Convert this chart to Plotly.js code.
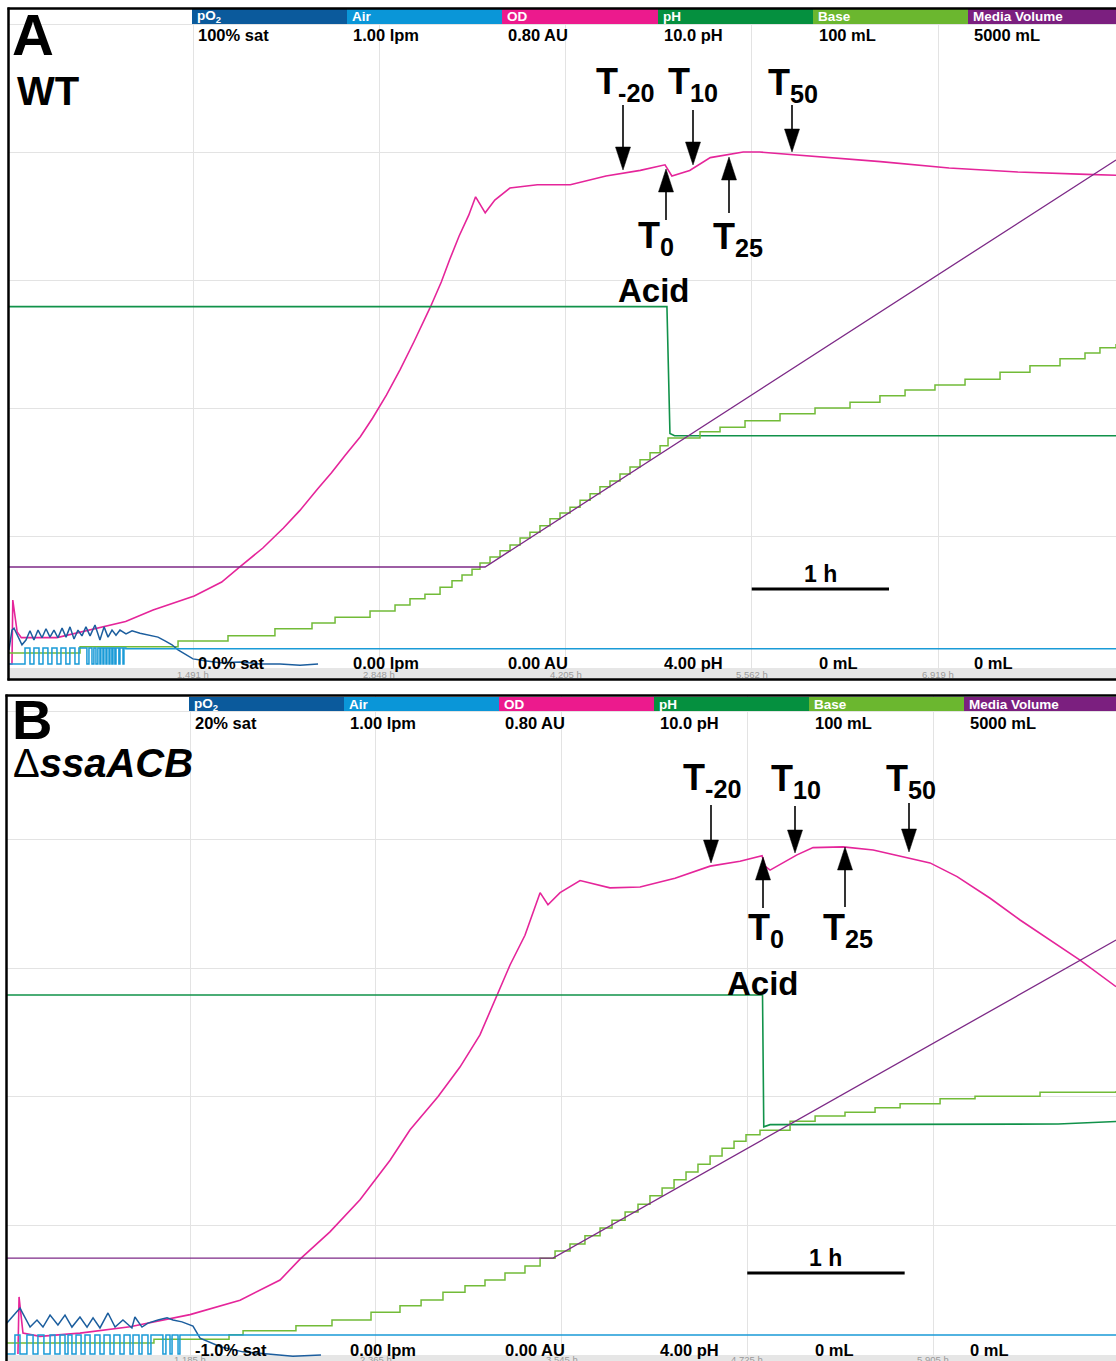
<!DOCTYPE html>
<html><head><meta charset="utf-8">
<script src="https://cdn.plot.ly/plotly-3.0.1.min.js"></script>
<style>html,body{margin:0;padding:0;background:#fff}#chart{width:1116px;height:1361px}</style>
</head><body><div id="chart"></div>
<script>
// ---------------- DATA ----------------
// Channel names and scale labels
const channels = ['pO<sub>2</sub>', 'Air', 'OD', 'pH', 'Base', 'Media Volume'];
const topLabelsA = ['100% sat', '1.00 lpm', '0.80 AU', '10.0 pH', '100 mL', '5000 mL'];
const botLabelsA = ['0.0% sat', '0.00 lpm', '0.00 AU', '4.00 pH', '0 mL', '0 mL'];
const topLabelsB = ['20% sat', '1.00 lpm', '0.80 AU', '10.0 pH', '100 mL', '5000 mL'];
const botLabelsB = ['-1.0% sat', '0.00 lpm', '0.00 AU', '4.00 pH', '0 mL', '0 mL'];
// numeric scale of each channel [min, max]
const scaleA = {po2: [0, 100], air: [0, 1], od: [0, 0.8], ph: [4, 10], base: [0, 100], mv: [0, 5000]};
const scaleB = {po2: [-1, 20], air: [0, 1], od: [0, 0.8], ph: [4, 10], base: [0, 100], mv: [0, 5000]};
// time ticks (h)
const ticksA = [1.491, 2.848, 4.205, 5.562, 6.919];
const ticksB = [1.185, 2.365, 3.545, 4.725, 5.905];

// ---- Panel A (WT) ----
const odA_t = [0.150,0.172,0.178,0.21,0.24,0.50,1.00,1.20,1.50,1.70,1.83,2.00,2.15,2.27,2.40,2.50,2.60,2.71,2.80,2.90,3.00,3.10,3.22,3.30,3.36,3.43,3.50,3.55,3.62,3.69,3.80,4.00,4.24,4.50,4.75,4.93,4.98,5.11,5.26,5.50,5.62,6.00,6.50,7.00,7.50,8.00,8.22];
const odA_v = [0.000,0.000,0.080,0.040,0.033,0.033,0.053,0.0675,0.085,0.1025,0.121,0.145,0.170,0.192,0.219,0.239,0.261,0.284,0.3075,0.336,0.368,0.4025,0.446,0.4775,0.505,0.535,0.561,0.584,0.564,0.580,0.595,0.599,0.599,0.610,0.617,0.624,0.610,0.617,0.633,0.640,0.640,0.635,0.628,0.620,0.615,0.612,0.611];
const phA_t = [0.150, 4.944, 4.966, 5.00, 8.22];
const phA_v = [7.35, 7.35, 6.16, 6.14, 6.14];
const baseA_t = [0.150,0.668,1.382,1.746,2.088,2.358,2.526,2.781,2.963,3.072,3.181,3.291,3.378,3.451,3.524,3.582,3.655,3.728,3.801,3.874,3.946,4.019,4.092,4.165,4.238,4.311,4.384,4.456,4.529,4.602,4.675,4.748,4.821,4.894,4.952,5.185,5.331,5.513,5.768,6.023,6.278,6.496,6.679,6.897,7.116,7.371,7.589,7.808,7.990,8.099,8.216];
const baseA_v = [1.7,2.7,3.6,4.4,5.5,6.4,7.3,8.3,9.2,10.2,10.9,12.0,13.0,13.9,14.8,15.8,16.7,17.7,18.6,19.7,20.6,21.6,22.7,23.6,24.5,25.6,26.6,27.7,28.6,29.7,30.8,31.9,33.0,34.1,35.3,36.3,37.0,38.0,39.1,40.0,40.9,41.9,42.8,43.6,44.5,45.6,46.6,47.7,48.6,49.4,50.0];
const mvA_t = [0.150, 3.619, 8.216];
const mvA_v = [758, 758, 3938];
const po2A_t = [0.150,0.172,0.187,0.216,0.245,0.274,0.303,0.332,0.362,0.391,0.420,0.449,0.478,0.507,0.537,0.566,0.595,0.624,0.653,0.682,0.711,0.741,0.777,0.813,0.843,0.872,0.901,0.930,0.959,1.003,1.047,1.105,1.178,1.236,1.287,1.338,1.382,1.433,1.491,1.578,1.688,1.833,1.979,2.125,2.271,2.402];
const po2A_v = [2.2,5.3,5.6,4.2,3.0,3.75,5.2,3.75,5.3,4.1,5.5,4.2,5.3,4.1,5.6,4.2,5.8,3.9,5.3,4.4,5.8,4.4,6.1,3.75,5.8,4.2,5.3,4.5,5.3,4.7,5.2,4.8,4.4,4.2,3.6,3.0,2.2,1.6,0.8,0.5,0.2,0.3,0.0,0.0,-0.2,0.0];
const airA_t = [0.150,0.267,0.303,0.332,0.369,0.398,0.434,0.463,0.500,0.529,0.565,0.594,0.631,0.660,0.718,0.733,0.755,0.769,0.784,0.798,0.813,0.820,0.835,0.842,0.857,0.864,0.879,0.886,0.900,0.908,0.922,0.930,0.951,0.959,0.981,0.988,1.002,8.216];
const airA_v = [0,0.025,0,0.025,0,0.025,0,0.025,0,0.025,0,0.025,0,0.025,0,0.025,0,0.025,0,0.025,0,0.025,0,0.025,0,0.025,0,0.025,0,0.025,0,0.025,0,0.025,0,0.025,0.024,0.025];

// ---- Panel B (ΔssaACB) ----
const odB_t = [0.092,0.099,0.124,0.232,0.486,0.804,1.185,1.503,1.757,1.884,2.074,2.265,2.456,2.583,2.760,2.900,3.027,3.135,3.218,3.313,3.409,3.459,3.536,3.663,3.853,4.044,4.266,4.489,4.679,4.819,4.838,4.870,5.041,5.143,5.334,5.525,5.740,5.886,6.058,6.268,6.458,6.649,6.839,7.068];
const odB_v = [0.000,0.071,0.026,0.022,0.026,0.034,0.049,0.067,0.092,0.118,0.152,0.192,0.241,0.279,0.320,0.357,0.397,0.447,0.484,0.521,0.574,0.559,0.574,0.589,0.580,0.581,0.592,0.607,0.613,0.620,0.607,0.602,0.621,0.630,0.631,0.627,0.618,0.611,0.594,0.567,0.540,0.515,0.490,0.457];
const phB_t = [0.022, 4.822, 4.830, 4.87, 6.70, 7.068];
const phB_v = [7.35, 7.35, 6.12, 6.14, 6.146, 6.17];
const baseB_t = [0.022,0.956,1.433,1.522,1.858,2.087,2.335,2.519,2.653,2.792,2.932,3.059,3.186,3.313,3.409,3.504,3.599,3.694,3.790,3.866,3.949,4.031,4.107,4.184,4.260,4.336,4.412,4.489,4.565,4.641,4.717,4.806,4.997,5.156,5.346,5.537,5.696,5.950,6.172,6.585,7.068];
const baseB_v = [1.7,2.3,3.0,3.6,4.4,5.3,6.5,7.5,8.4,9.6,10.6,11.5,12.6,13.7,14.9,16.0,17.1,18.4,19.6,20.8,22.1,23.3,24.6,25.8,27.1,28.3,29.5,30.8,32.0,33.1,34.1,34.8,36.2,37.0,37.6,38.3,38.9,39.7,40.1,40.7,40.9];
const mvB_t = [0.022, 3.491, 7.068];
const mvB_v = [746, 746, 3219];
const po2B_t = [0.022,0.092,0.105,0.169,0.213,0.251,0.296,0.346,0.391,0.435,0.486,0.531,0.569,0.613,0.664,0.709,0.759,0.816,0.835,0.880,0.918,0.982,1.039,1.077,1.134,1.204,1.249,1.382,1.522,1.681,1.839,2.017];
const po2B_v = [0.01,0.44,0.50,-0.12,0.11,-0.12,0.27,-0.05,0.27,-0.12,0.21,-0.12,0.18,-0.15,0.34,-0.12,0.11,-0.15,0.21,-0.12,0.01,0.11,0.18,0.11,0.05,-0.09,-0.48,-0.77,-0.93,-1.0,-1.07,-1.03];
const airB_t = [0.022,0.073,0.105,0.149,0.188,0.219,0.257,0.296,0.327,0.359,0.391,0.410,0.435,0.461,0.493,0.518,0.550,0.581,0.613,0.639,0.677,0.702,0.740,0.766,0.804,0.823,0.861,0.880,0.918,0.937,1.013,1.032,1.058,1.071,1.109,1.121,7.068];
const airB_v = [0,0.0295,0,0.0295,0,0.0295,0,0.0295,0,0.0295,0,0.0295,0,0.0295,0,0.0295,0,0.0295,0,0.0295,0,0.0295,0,0.0295,0,0.0295,0,0.0295,0,0.0295,0,0.0295,0,0.0295,0,0.0295,0.0295];

// ---------------- LAYOUT GEOMETRY (pixels) ----------------
const W = 1116, H = 1361;
const fx = p => p / W, fy = p => 1 - p / H;
const FONT = 'Liberation Sans, Arial, Helvetica, sans-serif';
const COLORS = {po2: '#1c5e9e', air: '#1a9bd7', od: '#e5259a', ph: '#11924a', base: '#72bb38', mv: '#7d2a87'};
const HEADCOL = ['#0b5a9c', '#0a96d8', '#ec1a8d', '#05903f', '#6bb72f', '#7b1f7f'];

const panels = [
  {key: 'A', L: 9, R: 1116, T: 9, B: 680, vT: 24, vB: 664, g0: 193, g1: 938, ticks: ticksA, scale: scaleA,
   hx: [192, 347, 502, 658, 813, 968], hT: 9, hB: 24, hLab: 16.5, rowTop: 35, rowBot: 663, tickY: 674, band: [668, 680],
   top: topLabelsA, bot: botLabelsA, xid: 'x', xname: 'xaxis', y0: 1,
   data: {od: [odA_t, odA_v], ph: [phA_t, phA_v], base: [baseA_t, baseA_v], mv: [mvA_t, mvA_v], po2: [po2A_t, po2A_v], air: [airA_t, airA_v]},
   frame: {left: 8.5, top: 8.5, bottom: 679.5},
   letter: {t: 'A', x: 11, y: 1, s: 58}, strain: {t: '<b>WT</b>', x: 16, y: 68, s: 40},
   bar: {y: 589, tx: 574}, bar0: 5.562,
   arrows: [[623,105,170],[693,110,165],[792,105,152],[666,220,169],[729,213,157]],
   tlabels: [['T<sub>-20</sub>',595,60],['T<sub>10</sub>',667,60],['T<sub>50</sub>',767,61],['T<sub>0</sub>',637,214],['T<sub>25</sub>',712,215]],
   acid: [654, 271]},
  {key: 'B', L: 7, R: 1116, T: 696, B: 1361, vT: 711, vB: 1354, g0: 190, g1: 933, ticks: ticksB, scale: scaleB,
   hx: [189, 344, 499, 654, 809, 964], hT: 697, hB: 711, hLab: 704, rowTop: 723, rowBot: 1350, tickY: 1359, band: [1355, 1361],
   top: topLabelsB, bot: botLabelsB, xid: 'x2', xname: 'xaxis2', y0: 7,
   data: {od: [odB_t, odB_v], ph: [phB_t, phB_v], base: [baseB_t, baseB_v], mv: [mvB_t, mvB_v], po2: [po2B_t, po2B_v], air: [airB_t, airB_v]},
   frame: {left: 6.5, top: 695.5, bottom: null},
   letter: {t: 'B', x: 11, y: 687, s: 56}, strain: {t: 'Δ<b><i>ssaACB</i></b>', x: 12, y: 740, s: 40},
   bar: {y: 1273, tx: 1258}, bar0: 4.725,
   arrows: [[711,805,863],[795,806,853],[909,803,852],[763,908,857],[845,907,847]],
   tlabels: [['T<sub>-20</sub>',682,756],['T<sub>10</sub>',770,757],['T<sub>50</sub>',885,757],['T<sub>0</sub>',747,906],['T<sub>25</sub>',822,906]],
   acid: [763, 964]}
];

const order = ['od', 'ph', 'base', 'mv', 'po2', 'air'];
const drawOrder = ['mv', 'base', 'ph', 'air', 'po2', 'od'];
const widths = {od: 1.6, ph: 1.6, base: 1.5, mv: 1.3, po2: 1.5, air: 1.5};
const shapes = {air: 'hv', base: 'hv'};

const layout = {width: W, height: H, margin: {l: 0, r: 0, t: 0, b: 0, pad: 0},
  paper_bgcolor: '#ffffff', plot_bgcolor: 'rgba(0,0,0,0)', showlegend: false, hovermode: false,
  shapes: [], annotations: []};
const traces = [];

function ann(text, x, y, size, opts) {
  return Object.assign({text: text, x: fx(x), y: fy(y), xref: 'paper', yref: 'paper', showarrow: false,
    xanchor: 'left', yanchor: 'top', borderpad: 0, font: {family: FONT, size: size, color: '#000'}}, opts || {});
}

panels.forEach(p => {
  const tpp = (p.ticks[4] - p.ticks[0]) / (p.g1 - p.g0);
  const xr = [p.ticks[0] - (p.g0 - p.L) * tpp, p.ticks[0] + (p.R - p.g0) * tpp];
  const firstY = 'y' + (p.y0 === 1 ? '' : p.y0);
  layout[p.xname] = {domain: [fx(p.L), fx(p.R)], range: xr, tickvals: p.ticks, showticklabels: false, ticks: '',
    showgrid: true, gridcolor: '#e3e3e3', gridwidth: 1, zeroline: false, showline: false, anchor: firstY, fixedrange: true};
  order.forEach((ch, i) => {
    const n = p.y0 + i;
    const id = 'y' + (n === 1 ? '' : n);
    const name = 'yaxis' + (n === 1 ? '' : n);
    const [mn, mx] = p.scale[ch];
    const vpp = (mx - mn) / (p.vB - p.vT);
    const rng = [mn - (p.B - p.vB) * vpp, mx + (p.vT - p.T) * vpp];
    const ax = {domain: [fy(p.B), fy(p.T)], range: rng, anchor: p.xid, fixedrange: true};
    if (i === 0) {
      const tv = [1, 2, 3, 4, 5].map(k => mn + k * (mx - mn) / 5);
      Object.assign(ax, {tickvals: tv, showticklabels: false, ticks: '', showgrid: true, gridcolor: '#e3e3e3',
        gridwidth: 1, zeroline: false, showline: false});
    } else {
      Object.assign(ax, {overlaying: firstY, visible: false});
    }
    layout[name] = ax;
    p['ax_' + ch] = id;
  });
  drawOrder.forEach(ch => {
    const d = p.data[ch];
    traces.push({type: 'scatter', mode: 'lines', x: d[0], y: d[1], xaxis: p.xid, yaxis: p['ax_' + ch],
      line: {color: COLORS[ch], width: widths[ch], shape: shapes[ch] || 'linear'}, hoverinfo: 'skip'});
  });
  // bottom grey band
  layout.shapes.push({type: 'rect', xref: 'paper', yref: 'paper', x0: fx(p.L), x1: fx(p.R), y0: fy(p.band[1]), y1: fy(p.band[0]),
    fillcolor: '#e6e6e6', line: {width: 0}, layer: 'below'});
  // header bars
  p.hx.forEach((x0, i) => {
    const x1 = i < 5 ? p.hx[i + 1] : p.R;
    layout.shapes.push({type: 'rect', xref: 'paper', yref: 'paper', x0: fx(x0), x1: fx(x1), y0: fy(p.hB), y1: fy(p.hT),
      fillcolor: HEADCOL[i], line: {width: 0}, layer: 'above'});
    layout.annotations.push(ann('<b>' + channels[i] + '</b>', x0 + 4, p.hLab, 13.5, {yanchor: 'middle', font: {family: FONT, size: 13.5, color: '#ffffff'}}));
    layout.annotations.push(ann('<b>' + p.top[i] + '</b>', x0 + 5, p.rowTop, 16.5, {yanchor: 'middle'}));
    layout.annotations.push(ann('<b>' + p.bot[i] + '</b>', x0 + 5, p.rowBot, 16.5, {yanchor: 'middle'}));
  });
  // time tick labels
  p.ticks.forEach(v => {
    layout.annotations.push({text: v.toFixed(3) + ' h', x: v, xref: p.xid, y: fy(p.tickY), yref: 'paper', showarrow: false,
      xanchor: 'center', yanchor: 'middle', font: {family: FONT, size: 9.5, color: '#9a9a9a'}});
  });
  // frame
  const fr = p.frame;
  layout.shapes.push({type: 'line', xref: 'paper', yref: 'paper', x0: fx(fr.left), x1: fx(fr.left), y0: fy(fr.bottom === null ? H : fr.bottom + 1), y1: fy(fr.top - 1), line: {color: '#000', width: 2.5}, layer: 'above'});
  layout.shapes.push({type: 'line', xref: 'paper', yref: 'paper', x0: fx(fr.left - 1), x1: 1, y0: fy(fr.top), y1: fy(fr.top), line: {color: '#000', width: 2.5}, layer: 'above'});
  if (fr.bottom !== null) {
    layout.shapes.push({type: 'line', xref: 'paper', yref: 'paper', x0: fx(fr.left - 1), x1: 1, y0: fy(fr.bottom), y1: fy(fr.bottom), line: {color: '#000', width: 2.5}, layer: 'above'});
  }
  // panel letter and strain
  layout.annotations.push(ann('<b>' + p.letter.t + '</b>', p.letter.x, p.letter.y, p.letter.s));
  layout.annotations.push(ann(p.strain.t, p.strain.x, p.strain.y, p.strain.s));
  // 1 h scale bar
  layout.shapes.push({type: 'line', xref: p.xid, yref: 'paper', x0: p.bar0, x1: p.bar0 + 1, y0: fy(p.bar.y), y1: fy(p.bar.y),
    line: {color: '#000', width: 3}, layer: 'above'});
  layout.annotations.push({text: '<b>1 h</b>', x: p.bar0 + 0.5, xref: p.xid, y: fy(p.bar.tx), yref: 'paper', showarrow: false,
    xanchor: 'center', yanchor: 'middle', font: {family: FONT, size: 23, color: '#000'}});
  // arrows
  p.arrows.forEach(a => {
    const [x, yTail, yTip] = a;
    const dir = yTip > yTail ? 1 : -1;
    const yBase = yTip - dir * 23;
    layout.shapes.push({type: 'line', xref: 'paper', yref: 'paper', x0: fx(x), x1: fx(x), y0: fy(yTail), y1: fy(yBase),
      line: {color: '#000', width: 1.6}, layer: 'above'});
    layout.shapes.push({type: 'path', xref: 'paper', yref: 'paper',
      path: `M ${fx(x - 7.5)},${fy(yBase)} L ${fx(x + 7.5)},${fy(yBase)} L ${fx(x)},${fy(yTip)} Z`,
      fillcolor: '#000', line: {color: '#000', width: 0.5}, layer: 'above'});
  });
  p.tlabels.forEach(t => {
    layout.annotations.push(ann('<b>' + t[0] + '</b>', t[1], t[2], 36));
  });
  layout.annotations.push(ann('<b>Acid</b>', p.acid[0], p.acid[1], 33, {xanchor: 'center'}));
});

Plotly.newPlot('chart', traces, layout, {staticPlot: true, displayModeBar: false});
</script></body></html>
